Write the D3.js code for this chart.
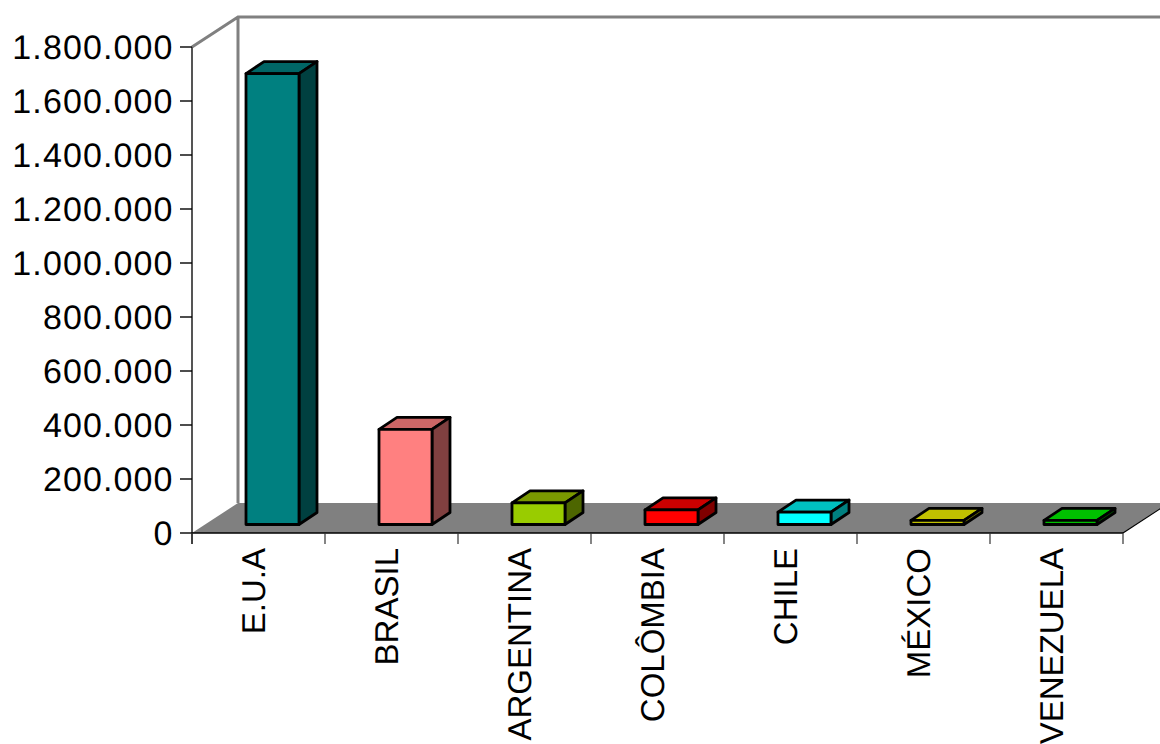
<!DOCTYPE html>
<html><head><meta charset="utf-8">
<script src="https://cdn.jsdelivr.net/npm/d3@7"></script>
<style>html,body{margin:0;padding:0;background:#fff}svg{display:block}text{font-family:"Liberation Sans",Arial,sans-serif;fill:#000;text-rendering:geometricPrecision}</style>
</head><body><svg id="c" width="1160" height="744"></svg>
<script>
const categories=["E.U.A","BRASIL","ARGENTINA","COLÔMBIA","CHILE","MÉXICO","VENEZUELA"];
const values=[1670000,352000,80000,54000,46000,15000,15000];
const frontColors=["#008080","#FF8080","#99CC00","#FF0000","#00FFFF","#C0C000","#00C000"];
const topColors=["#006666","#CC6666","#7A9900","#CC0000","#00C0C0","#C0C000","#00C000"];
const sideColors=["#004040","#804040","#4D6600","#800000","#008080","#808000","#006000"];
const tickValues=[0,200000,400000,600000,800000,1000000,1200000,1400000,1600000,1800000];
const tickFmt=d3.formatLocale({decimal:",",thousands:".",grouping:[3],currency:["",""]}).format(",d");
const depth={x:46,y:-30};
const bar={x:18,y:-12,fy:-8.5};
const svg=d3.select("#c");
const x=d3.scaleBand().domain(categories).range([192,1123]);
const y=d3.scaleLinear().domain([0,1800000]).range([533,47]);
const grey="#808080";
const pts=a=>a.map(p=>p.join(",")).join(" ");
const x0=192,x1=1123,y0=y(0),yT=y(1800000);
svg.append("polygon").attr("points",pts([[x0,y0],[x0+depth.x,y0+depth.y],[x1+depth.x,y0+depth.y],[x1,y0]])).attr("fill",grey);
svg.append("path").attr("fill","none").attr("stroke",grey).attr("stroke-width",3)
 .attr("d",`M${x0},${yT}L${x0+depth.x},${yT+depth.y}H${x1+depth.x}M${x0+depth.x},${yT+depth.y}V${y0+depth.y}`);
svg.append("line").attr("x1",x1).attr("y1",y0).attr("x2",x1+depth.x).attr("y2",y0+depth.y).attr("stroke","#000").attr("stroke-width",1.2);
const ax=svg.append("g").attr("stroke","#000");
ax.append("line").attr("x1",x0).attr("x2",x0).attr("y1",yT).attr("y2",y0+11).attr("stroke-width",2).attr("stroke","#555");
ax.append("line").attr("x1",x0).attr("x2",x1).attr("y1",y0).attr("y2",y0).attr("stroke-width",1.6);
ax.selectAll(".yt").data(tickValues).join("line").attr("x1",x0-12).attr("x2",x0).attr("y1",d=>y(d)).attr("y2",d=>y(d)).attr("stroke-width",1.4);
ax.selectAll(".xt").data(categories.concat(["end"])).join("line")
 .attr("x1",(d,i)=>x0+i*x.step()).attr("x2",(d,i)=>x0+i*x.step()).attr("y1",y0).attr("y2",y0+11).attr("stroke-width",1.2).attr("stroke","#333");
svg.selectAll(".yl").data(tickValues).join("text").attr("text-anchor","end").attr("letter-spacing",1.1)
 .attr("x",173.5).attr("y",d=>y(d)+12).attr("font-size",34).text(tickFmt);
const bw=53,off=54,base=y0+bar.fy;
const g=svg.selectAll(".b").data(categories).join("g");
g.each(function(c,i){
 const s=d3.select(this),l=x(c)+off,r=l+bw,t=y(values[i])+bar.fy,b=base;
 const add=(p,f)=>s.append("polygon").attr("points",pts(p)).attr("fill",f).attr("stroke","#000").attr("stroke-width",2.8).attr("stroke-linejoin","round");
 add([[l,t],[l+bar.x,t+bar.y],[r+bar.x,t+bar.y],[r,t]],topColors[i]);
 add([[r,t],[r+bar.x,t+bar.y],[r+bar.x,b+bar.y],[r,b]],sideColors[i]);
 add([[l,t],[r,t],[r,b],[l,b]],frontColors[i]);
});
svg.selectAll(".xl").data(categories).join("text").attr("text-anchor","end")
 .attr("transform",c=>`translate(${x(c)+x.step()/2+6},548) rotate(-90)`).attr("font-size",33).text(c=>c);
</script></body></html>
